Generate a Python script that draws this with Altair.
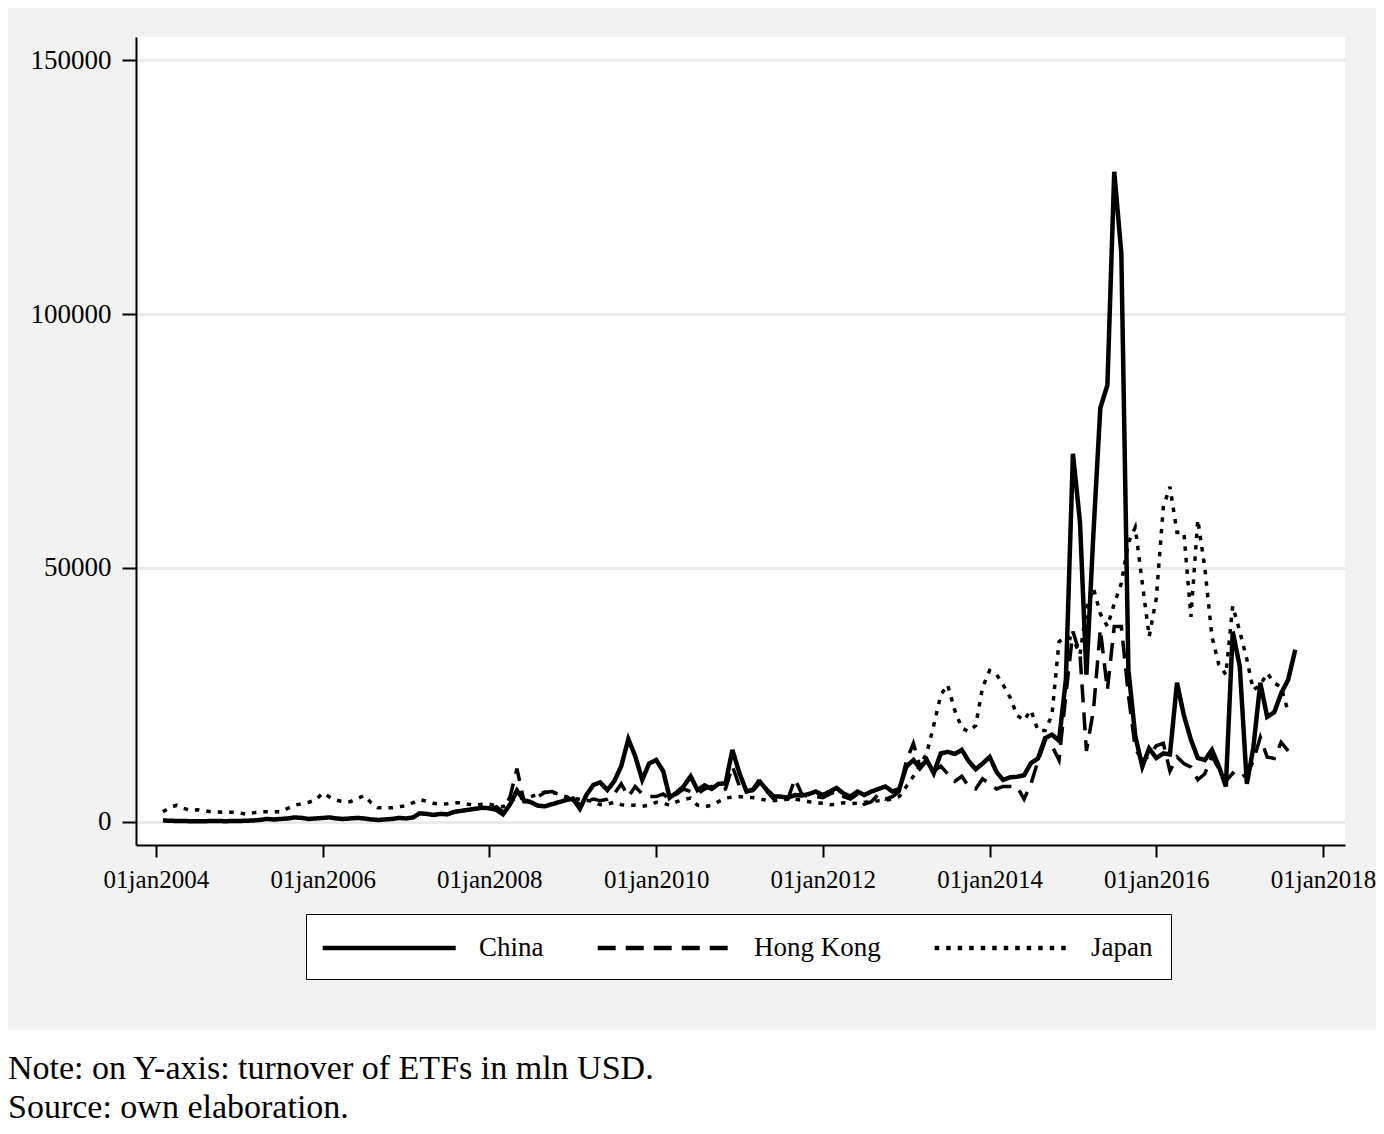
import altair as alt
import pandas as pd

# Monthly observations, Feb 2004 .. Sep 2017
dates = pd.date_range("2004-02-01", periods=164, freq="MS")

china = [
    # 2004 (Feb-Dec)
    300, 250, 200, 200, 150, 150, 150, 200, 200, 150, 200,
    # 2005
    200, 250, 300, 400, 600, 500, 600, 700, 900, 800, 600, 700,
    # 2006
    800, 900, 700, 600, 700, 800, 700, 500, 400, 500, 600, 800,
    # 2007
    700, 900, 1700, 1600, 1400, 1600, 1500, 2000, 2200, 2400, 2600, 2800,
    # 2008
    2700, 2400, 1500, 3500, 6200, 4300, 3900, 3200, 3100, 3500, 3900, 4300,
    # 2009
    4600, 2600, 5300, 7300, 7800, 6300, 8000, 11000, 16300, 13000, 8300, 11500,
    # 2010
    12200, 10000, 4800, 5800, 7000, 9000, 6300, 7200, 6500, 7500, 7600, 14200,
    # 2011
    9600, 6000, 6300, 7900, 6300, 5000, 5000, 4800, 5300, 5200, 5500, 6000,
    # 2012
    5300, 6000, 6700, 5600, 5000, 6000, 5300, 6000, 6500, 7000, 6000, 6500,
    # 2013
    10900, 12200, 10600, 12200, 9600, 13500, 13800, 13400, 14200, 12000, 10400, 11500,
    # 2014
    12800, 9800, 8300, 8800, 8900, 9200, 11600, 12500, 16500, 17200, 16000, 28000,
    # 2015
    72500, 59000, 29000, 57000, 81500, 86000, 128000, 112000, 30000, 17000, 10900, 14500,
    # 2016
    12600, 13500, 13300, 27400, 21000, 16200, 12600, 12200, 14200, 11000, 7000, 37500,
    # 2017 (Jan-Sep)
    30600, 7500, 14500, 27400, 20700, 21600, 25300, 28000, 33900,
]

hong_kong = [None] * 47 + [
    # 2008
    2500, 3000, 2000, 5000, 10500, 4000, 4000, 5000, 5800, 6000, 5500, 5000,
    # 2009
    4300, 3500, 4000, 4500, 4200, 4500, 5500, 7500, 5000, 7000, 5500, 5000,
    # 2010
    5000, 5500, 4500, 5500, 6500, 6000, 5500, 6500, 7000, 6000, 6500, 11000,
    # 2011
    7000, 6000, 6500, 8500, 6000, 4500, 4500, 4500, 8500, 5500, 5000, 5000,
    # 2012
    4800, 5500, 6000, 5000, 4500, 5500, 3500, 4000, 5500, 4500, 5000, 6000,
    # 2013
    12000, 15500, 11000, 12000, 10000, 11000, 9500, 8000, 9000, 7000, 6500, 8500,
    # 2014
    7500, 6500, 7000, 7000, 7000, 4500, 7500, 12000, 16000, 15000, 12200, 25000,
    # 2015
    37500, 33000, 14000, 22000, 38000, 26000, 38500, 38500, 25000, 14500, 12000, 13000,
    # 2016
    15000, 15500, 10000, 12800, 11500, 10800, 8300, 9500, 13000, 10500, 8000, 9600,
    # 2017 (Jan-Aug)
    8600, 9500, 12000, 16700, 12800, 12500, 15700, 14000,
] + [None]

japan = [
    # 2004 (Feb-Dec)
    2000, 2800, 3300, 2700, 2300, 2400, 2200, 2000, 1950, 1900, 1900,
    # 2005
    1800, 1500, 1800, 2000, 2000, 2000, 2000, 2700, 3300, 3600, 3900, 4300,
    # 2006
    5700, 4900, 4300, 4000, 4000, 4600, 5200, 3800, 2800, 2800, 2800, 3000,
    # 2007
    3200, 3800, 4400, 4100, 3700, 3500, 3600, 3800, 3800, 3500, 3300, 3500,
    # 2008
    3500, 3200, 3000, 3800, 5000, 4500, 5000, 5500, 5900, 5800, 5500, 5000,
    # 2009
    4600, 4500, 4300, 4000, 3400, 3500, 3900, 3400, 3300, 3300, 3100, 3300,
    # 2010
    3900, 3700, 3300, 4000, 4400, 4700, 3300, 3000, 3300, 4000, 4700, 4900,
    # 2011
    5000, 4800, 4800, 4500, 4300, 4200, 4400, 4500, 4500, 4300, 4000, 3800,
    # 2012
    3700, 3400, 3500, 3800, 3600, 3700, 3900, 4000, 4200, 4300, 4500, 5000,
    # 2013
    7000, 9000, 11000, 13600, 19000, 25000, 27000, 22000, 18500, 17800, 19000, 26500,
    # 2014
    29800, 29000, 27000, 24500, 21000, 20000, 22000, 18000, 18000, 21000, 35500, 36400,
    # 2015
    36000, 33000, 42000, 46000, 41000, 38500, 43000, 47000, 55000, 58000, 47000, 36500,
    # 2016
    44000, 62000, 66000, 57000, 57000, 40400, 59500, 50000, 36500, 31000, 29000, 42500,
    # 2017 (Jan-Aug)
    37500, 32000, 26000, 27000, 29300, 27400, 26500, 21700,
] + [None]

series_names = ["China", "Hong Kong", "Japan"]
tick_years = [2004, 2006, 2008, 2010, 2012, 2014, 2016, 2018]
y_ticks = [0, 50000, 100000, 150000]
note_lines = ["Note: on Y-axis: turnover of ETFs in mln USD.", "Source: own elaboration."]

rows = []
for name, vals in zip(series_names, [china, hong_kong, japan]):
    for d, v in zip(dates, vals):
        if v is not None:
            rows.append({"date": d, "value": v, "series": name})
df = pd.DataFrame(rows)

FONT = "Liberation Serif"

x_enc = alt.X(
    "date:T",
    title=None,
    scale=alt.Scale(
        domain=[alt.DateTime(year=2003, month=10, date=6),
                alt.DateTime(year=2018, month=4, date=7)]
    ),
    axis=alt.Axis(
        values=[alt.DateTime(year=y, month=1, date=1) for y in tick_years],
        labelExpr="lower(timeFormat(datum.value, '%d%b%Y'))",
        grid=False,
        tickSize=12,
        tickWidth=2,
        tickColor="black",
        domainColor="black",
        domainWidth=2,
        labelPadding=10,
        labelFlush=False,
        labelOverlap=False,
        labelFont=FONT,
        labelFontSize=25,
        labelColor="black",
    ),
)

y_enc = alt.Y(
    "value:Q",
    title=None,
    scale=alt.Scale(domain=[-4528, 154528], nice=False, zero=False),
    axis=alt.Axis(
        values=y_ticks,
        format="d",
        grid=True,
        gridColor="#eaeaea",
        gridWidth=3,
        tickSize=14,
        tickWidth=2,
        tickColor="black",
        domainColor="black",
        domainWidth=2,
        labelPadding=11,
        labelFont=FONT,
        labelFontSize=27,
        labelColor="black",
    ),
)

dash_enc = alt.StrokeDash(
    "series:N",
    scale=alt.Scale(domain=series_names, range=[[1, 0], [18, 10], [4.5, 7]]),
    legend=alt.Legend(
        title=None,
        orient="none",
        legendX=170,
        legendY=877,
        direction="horizontal",
        symbolType="M-1.3,0H8.7",
        symbolSize=708,
        symbolStrokeWidth=4.5,
        symbolStrokeColor="black",
        labelFont=FONT,
        labelFontSize=27,
        labelColor="black",
        labelOffset=123,
        columnPadding=44,
        padding=18,
        fillColor="white",
        strokeColor="black",
    ),
)

base = alt.Chart(df).encode(x=x_enc, y=y_enc, strokeDash=dash_enc, detail="series:N")

china_line = base.transform_filter(alt.datum.series == "China").mark_line(
    color="black", strokeWidth=4.5
)
other_lines = base.transform_filter(alt.datum.series != "China").mark_line(
    color="black", strokeWidth=3.5
)

# white strip under the grey graph region, for the note
strip = alt.Chart(pd.DataFrame({"k": [0]})).mark_rect(color="white").encode(
    x=alt.value(-200), x2=alt.value(1400), y=alt.value(993), y2=alt.value(1300)
)

notes = alt.Chart(pd.DataFrame({"k": [0]})).mark_text(
    align="left", baseline="alphabetic", font=FONT, fontSize=34,
    color="black", lineHeight=39,
).encode(
    x=alt.value(-128), y=alt.value(1042), text=alt.value(note_lines)
)

chart = alt.layer(strip, other_lines, china_line, notes).properties(
    width=1209,
    height=808,
    autosize=alt.AutoSizeParams(type="none"),
    padding={"left": 128, "top": 29, "right": 31, "bottom": 281},
).configure(
    background="#f2f2f2",
    font=FONT,
).configure_view(
    fill="white",
    stroke=None,
)

chart.save("out.html", embed_options={"renderer": "svg", "actions": False})
